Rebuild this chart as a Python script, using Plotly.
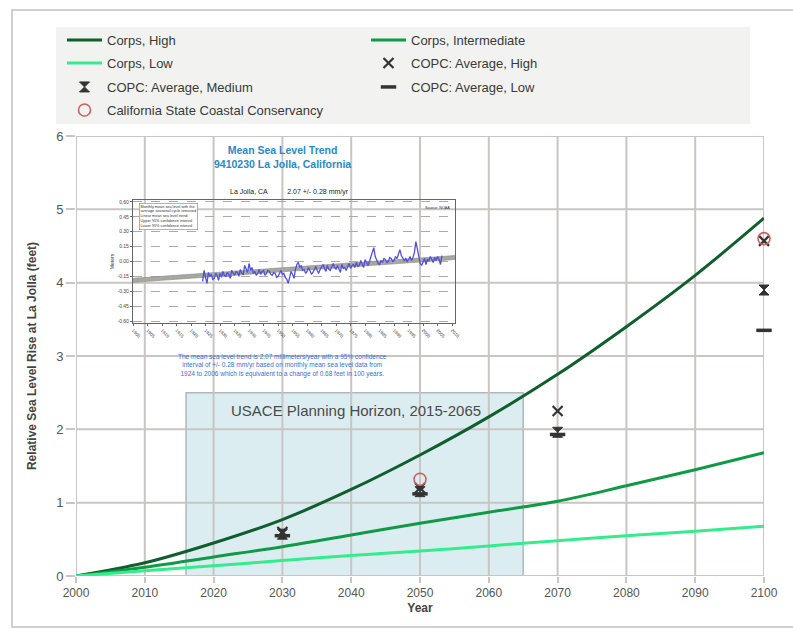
import numpy as np
import plotly.graph_objects as go

# ---------------- data ----------------
years = [2000, 2010, 2020, 2030, 2040, 2050, 2060, 2070, 2080, 2090, 2100]
corps_high = [0, 0.18, 0.45, 0.77, 1.18, 1.65, 2.17, 2.75, 3.40, 4.10, 4.88]
corps_inter = [0, 0.12, 0.26, 0.40, 0.56, 0.72, 0.87, 1.02, 1.23, 1.45, 1.68]
corps_low = [0, 0.07, 0.14, 0.21, 0.28, 0.34, 0.41, 0.48, 0.55, 0.61, 0.68]

copc_years = [2030, 2050, 2070, 2100]
copc_high = [0.60, 1.20, 2.25, 4.57]
copc_med = [0.57, 1.15, 1.96, 3.90]
copc_low = [0.55, 1.12, 1.93, 3.35]

cscc_years = [2050, 2100]
cscc_vals = [1.32, 4.60]

x_ticks = list(range(2000, 2101, 10))
y_ticks = [0, 1, 2, 3, 4, 5, 6]

usace_start, usace_end, usace_top = 2016, 2065, 2.5

# inset (NOAA mean sea level trend) data
msl_start = 1924.0
msl_step = 0.5
msl_vals = [
    -0.20, -0.09, -0.16, -0.22, -0.11, -0.15, -0.13, -0.18, -0.17, -0.12,
    -0.14, -0.19, -0.12, -0.16, -0.10, -0.14, -0.15, -0.11, -0.13, -0.17,
    -0.09, -0.12, -0.14, -0.10, -0.11, -0.15, -0.08, -0.12, -0.13, -0.04,
    -0.07, -0.11, -0.02, -0.09, -0.06, -0.12, -0.10, -0.14, -0.12, -0.08,
    -0.13, -0.10, -0.09, -0.14, -0.12, -0.09, -0.10, -0.13, -0.14, -0.11,
    -0.12, -0.16, -0.15, -0.11, -0.09, -0.13, -0.12, -0.16, -0.18, -0.22,
    -0.15, -0.10, -0.13, -0.17, -0.08, -0.03, -0.01, -0.06, -0.04, -0.09,
    -0.08, -0.12, -0.10, -0.06, -0.09, -0.13, -0.11, -0.07, -0.05, -0.09,
    -0.12, -0.08, -0.06, -0.03, -0.07, -0.10, -0.04, -0.08, -0.09, -0.05,
    -0.02, -0.06, -0.08, -0.04, -0.07, -0.11, -0.03, -0.07, -0.06, -0.09,
    -0.05, -0.02, -0.07, -0.04, -0.03, -0.06, -0.01, -0.05, -0.04, 0.01,
    -0.03, -0.06, 0.02, -0.02, -0.04, 0.00, 0.04, 0.09, 0.14, 0.05,
    0.01, -0.02, -0.03, 0.01, -0.01, 0.03, 0.02, -0.01, 0.00, 0.04,
    0.03, 0.00, 0.01, 0.05, 0.03, 0.08, 0.12, 0.06, 0.04, 0.01,
    0.03, 0.00, 0.02, 0.05, 0.01, 0.04, 0.09, 0.20, 0.13, 0.05,
    -0.02, -0.04, 0.00, 0.03, -0.03, 0.02, 0.01, 0.05, 0.02, -0.01,
    0.04, 0.01, 0.05, 0.02, -0.03, 0.06,
]
trend_years = [1900, 2011]
trend_vals = [-0.19, 0.04]
upper_vals = [-0.17, 0.06]
lower_vals = [-0.21, 0.02]
inset_yticks = [0.60, 0.45, 0.30, 0.15, 0.00, -0.15, -0.30, -0.45, -0.60]
inset_xticks = list(range(1900, 2011, 5))

# ---------------- geometry helpers ----------------
W, H = 793, 629
L, R, T, B = 76, 764, 136, 576


def px(x):
    return (x - L) / (R - L)


def py(y):
    return (B - y) / (B - T)


FONT = "Liberation Sans, Arial, sans-serif"
GRID = "#c9c5c2"
MK = "#333333"

fig = go.Figure()

# main curves (legend rows: each row its own legend)
fig.add_trace(go.Scatter(x=years, y=corps_high, mode="lines", name="Corps, High", legend="legend",
                         line=dict(color="#0f5e2e", width=3, shape="spline")))
fig.add_trace(go.Scatter(x=years, y=corps_inter, mode="lines", name="Corps, Intermediate", legend="legend",
                         line=dict(color="#109a45", width=3, shape="spline")))
fig.add_trace(go.Scatter(x=years, y=corps_low, mode="lines", name="Corps, Low", legend="legend2",
                         line=dict(color="#35ec8c", width=3, shape="spline")))
fig.add_trace(go.Scatter(x=copc_years, y=copc_high, mode="markers", name="COPC: Average, High",
                         legend="legend2", cliponaxis=False,
                         marker=dict(symbol="x-thin-open", size=10, color=MK,
                                     line=dict(color=MK, width=2.2))))
fig.add_trace(go.Scatter(x=copc_years, y=copc_med, mode="markers", name="COPC: Average, Medium",
                         legend="legend3", cliponaxis=False,
                         marker=dict(symbol="hourglass", size=10, color=MK,
                                     line=dict(color=MK, width=1))))
fig.add_trace(go.Scatter(x=copc_years, y=copc_low, mode="markers", name="COPC: Average, Low",
                         legend="legend3", cliponaxis=False,
                         marker=dict(symbol="line-ew-open", size=11, color=MK,
                                     line=dict(color=MK, width=3.5))))
fig.add_trace(go.Scatter(x=cscc_years, y=cscc_vals, mode="markers",
                         name="California State Coastal Conservancy",
                         legend="legend4", cliponaxis=False,
                         marker=dict(symbol="circle-open", size=12, color="#d06060",
                                     line=dict(color="#d06060", width=1.6))))

# inset traces
msl_years = msl_start + msl_step * np.arange(len(msl_vals))
fig.add_trace(go.Scatter(x=trend_years, y=trend_vals, mode="lines", xaxis="x2", yaxis="y2",
                         showlegend=False, line=dict(color="#a8a8a0", width=4)))
fig.add_trace(go.Scatter(x=trend_years, y=upper_vals, mode="lines", xaxis="x2", yaxis="y2",
                         showlegend=False, line=dict(color="#888888", width=0.6)))
fig.add_trace(go.Scatter(x=trend_years, y=lower_vals, mode="lines", xaxis="x2", yaxis="y2",
                         showlegend=False, line=dict(color="#888888", width=0.6)))
fig.add_trace(go.Scatter(x=msl_years, y=msl_vals, mode="lines", xaxis="x2", yaxis="y2",
                         showlegend=False, line=dict(color="#4f4fe0", width=1.3)))

shapes = []
# outer frame
shapes.append(dict(type="rect", xref="paper", yref="paper",
                   x0=px(12), x1=px(800), y0=py(10), y1=py(627),
                   line=dict(color="#d0d0d0", width=2), fillcolor="rgba(0,0,0,0)", layer="below"))
# legend background
shapes.append(dict(type="rect", xref="paper", yref="paper",
                   x0=px(56), x1=px(750), y0=py(27), y1=py(124),
                   line=dict(width=0), fillcolor="#f2f2f1", layer="below"))
# USACE box
shapes.append(dict(type="rect", xref="x", yref="y",
                   x0=usace_start, x1=usace_end, y0=0, y1=usace_top,
                   line=dict(color="#b0b8ba", width=1.5), fillcolor="#dcedf1", layer="below"))
# grid
for xv in x_ticks:
    shapes.append(dict(type="line", xref="x", yref="y", x0=xv, x1=xv, y0=0, y1=y_ticks[-1],
                       line=dict(color=GRID, width=2), layer="below"))
for yv in y_ticks:
    shapes.append(dict(type="line", xref="x", yref="y", x0=x_ticks[0], x1=x_ticks[-1], y0=yv, y1=yv,
                       line=dict(color=GRID, width=2), layer="below"))
# inset white panel
shapes.append(dict(type="rect", xref="paper", yref="paper",
                   x0=px(82), x1=px(470), y0=py(141), y1=py(380),
                   line=dict(width=0), fillcolor="white", layer="below"))


def ann(text, x, y, size, color, **kw):
    d = dict(text=text, xref="paper", yref="paper", x=px(x), y=py(y), showarrow=False,
             xanchor="center", yanchor="middle",
             font=dict(size=size, color=color, family=FONT))
    d.update(kw)
    return d


annotations = [
    ann("USACE Planning Horizon, 2015-2065", 356, 410, 15, "#4a4a4a"),
    ann("<b>Mean Sea Level Trend<br>9410230 La Jolla, California</b>", 282, 157, 10.5, "#2b8ac6"),
    ann("La Jolla, CA&nbsp;&nbsp;&nbsp;&nbsp;&nbsp;&nbsp;&nbsp;&nbsp;&nbsp;&nbsp;2.07 +/- 0.28 mm/yr",
        289, 192, 7, "#222222"),
    ann("The mean sea level trend is 2.07 millimeters/year with a 95% confidence<br>"
        "interval of +/- 0.28 mm/yr based on monthly mean sea level data from<br>"
        "1924 to 2006 which is equivalent to a change of 0.68 feet in 100 years.",
        282, 365, 6.5, "#3a6ee0"),
    ann("Monthly mean sea level with the<br>average seasonal cycle removed<br>"
        "Linear mean sea level trend<br>Upper 95% confidence interval<br>Lower 95% confidence interval",
        139, 203, 3.8, "#333333", xanchor="left", yanchor="top", align="left",
        bgcolor="white", bordercolor="#666666", borderwidth=0.5, borderpad=1),
    ann("Source: NOAA", 452, 204, 3.8, "#333333", xanchor="right", yanchor="top"),
]


def row_legend(y_center):
    return dict(orientation="h", x=px(62), y=py(y_center), xanchor="left", yanchor="middle",
                entrywidth=254, entrywidthmode="pixels", bgcolor="rgba(0,0,0,0)",
                font=dict(size=13, color="#3a3a3a", family=FONT), itemwidth=35,
                tracegroupgap=0)


fig.update_layout(
    width=W, height=H,
    margin=dict(l=L, r=W - R, t=T, b=H - B, pad=0),
    paper_bgcolor="white", plot_bgcolor="rgba(0,0,0,0)",
    font=dict(family=FONT, size=12, color="#444444"),
    xaxis=dict(range=[2000, 2100], tickvals=x_ticks, showgrid=False, zeroline=False,
               showline=False, ticks="outside", ticklen=6, tickwidth=2, tickcolor=GRID,
               tickfont=dict(size=12, color="#555555"),
               title=dict(text="<b>Year</b>", standoff=4, font=dict(size=12, color="#444444"))),
    yaxis=dict(range=[0, 6], tickvals=y_ticks, showgrid=False, zeroline=False,
               showline=False, ticks="outside", ticklen=9, tickwidth=2, tickcolor=GRID,
               tickfont=dict(size=13, color="#555555"),
               title=dict(text="<b>Relative Sea Level Rise at La Jolla (feet)</b>", standoff=16,
                          font=dict(size=12, color="#444444"))),
    xaxis2=dict(domain=[px(133), px(455)], anchor="y2", range=[1900, 2011],
                tickvals=inset_xticks, ticktext=[str(v) for v in inset_xticks], tickangle=45,
                tickfont=dict(size=4.5, color="#444444"), showgrid=False, zeroline=False,
                showline=True, mirror=True, linecolor="#666666", linewidth=1.2,
                ticks="outside", ticklen=2, tickcolor="#666666"),
    yaxis2=dict(domain=[py(323), py(200)], anchor="x2", range=[-0.62, 0.62],
                tickvals=inset_yticks, ticktext=["%.2f" % v for v in inset_yticks],
                tickfont=dict(size=5, color="#444444"), showgrid=True, griddash="dash",
                gridcolor="#aaaaaa", gridwidth=0.6, zeroline=False,
                showline=True, mirror=True, linecolor="#666666", linewidth=1.2,
                ticks="outside", ticklen=2, tickcolor="#666666",
                title=dict(text="Meters", standoff=2, font=dict(size=5, color="#333333"))),
    legend=row_legend(40),
    legend2=row_legend(63),
    legend3=row_legend(87),
    legend4=row_legend(110),
    shapes=shapes,
    annotations=annotations,
)

fig.write_html("out.html", config={"displayModeBar": False},
               post_script="document.body.style.margin='0px';")
